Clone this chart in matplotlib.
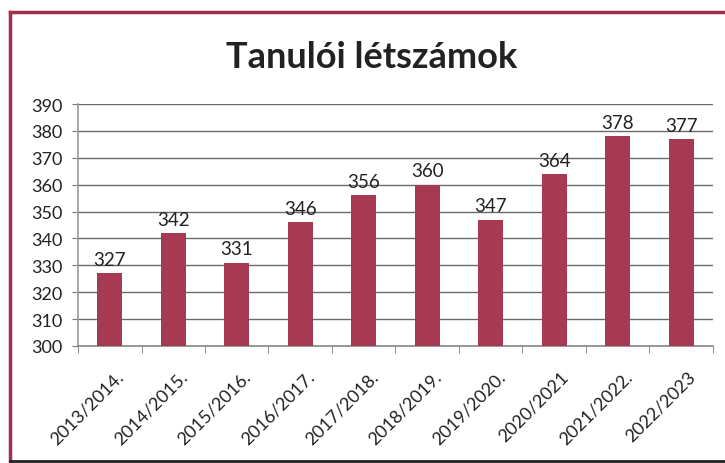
import matplotlib
matplotlib.use("Agg")
import matplotlib.pyplot as plt
import matplotlib.transforms as mtransforms
from matplotlib.lines import Line2D
import numpy as np

# data
years = ['2013/2014.', '2014/2015.', '2015/2016.', '2016/2017.', '2017/2018.',
         '2018/2019.', '2019/2020.', '2020/2021', '2021/2022.', '2022/2023']
students = [327, 342, 331, 346, 356, 360, 347, 364, 378, 377]
yticks = list(range(300, 391, 10))

plt.rcParams['font.family'] = ['Lato', 'DejaVu Sans']

fig = plt.figure(figsize=(7.25, 4.64), dpi=100)
ax = fig.add_axes([0.1076, 0.2522, 0.8758, 0.5215])

x = np.arange(len(years))
ax.bar(x, students, width=0.4, color='#A63A52', zorder=3)
for xi, v in zip(x, students):
    ax.text(xi, v + 2.0, str(v), ha='center', va='bottom', fontsize=13.5, color='#222222')

ax.set_xlim(-0.5, len(years) - 0.5)
ax.set_ylim(300, 390)
ax.set_yticks(yticks)
ax.tick_params(axis='y', labelsize=13, length=4, color='#777777', labelcolor='#222222', pad=7)
ax.set_xticks(x)
ax.set_xticklabels(years, rotation=45, ha='right', rotation_mode='anchor', fontsize=13,
                   color='#222222')
ax.tick_params(axis='x', length=0, pad=16)
# nudge the rotated labels a little to the right, like the original
shift = mtransforms.ScaledTranslation(6 / 100, 0, fig.dpi_scale_trans)
for lbl in ax.get_xticklabels():
    lbl.set_transform(lbl.get_transform() + shift)
ax.set_xticks(np.arange(len(years) + 1) - 0.5, minor=True)
ax.tick_params(axis='x', which='minor', length=5, color='#777777')

ax.grid(axis='y', color='#6a6a6a', linewidth=1.0, zorder=0)
for s in ['top', 'right']:
    ax.spines[s].set_visible(False)
ax.spines['left'].set_color('#999999')
ax.spines['bottom'].set_color('#888888')
ax.spines['left'].set_linewidth(1.2)
ax.spines['bottom'].set_linewidth(1.2)

fig.text(0.513, 0.877, 'Tanulói létszámok', ha='center', va='center',
         fontsize=26, fontweight='bold', color='#222222')

# frame around the chart (left and top in maroon, bottom dark)
fig.add_artist(Line2D([0.0138, 0.0138], [0.005, 0.972], color='#A0304C', linewidth=2.5,
                      transform=fig.transFigure))
fig.add_artist(Line2D([0.0138, 1.0], [0.972, 0.972], color='#A0304C', linewidth=2.5,
                      transform=fig.transFigure))
fig.add_artist(Line2D([0.0138, 1.0], [0.005, 0.005], color='#222222', linewidth=2,
                      transform=fig.transFigure))

fig.savefig('out.png', dpi=100)
